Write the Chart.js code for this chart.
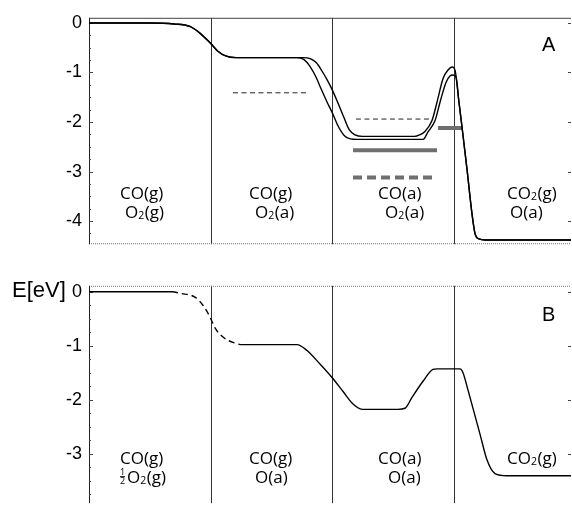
<!DOCTYPE html>
<html>
<head>
<meta charset="utf-8">
<script src="https://cdn.jsdelivr.net/npm/chart.js@4.4.0/dist/chart.umd.min.js"></script>
<style>
  html, body { margin: 0; padding: 0; background: #fff; }
  #wrap { position: relative; width: 572px; height: 521px; overflow: hidden; }
  #chartA { position: absolute; left: 0; top: 0; }
  #chartB { position: absolute; left: 0; top: 268px; }
</style>
</head>
<body>
<div id="wrap">
  <canvas id="chartA" width="572" height="262"></canvas>
  <canvas id="chartB" width="572" height="253"></canvas>
</div>
<script>
// reaction coordinate: four stages, dividers at 1, 2, 3
const stageBounds = [1, 2, 3];
const aTicks = [0, -1, -2, -3, -4];
const bTicks = [0, -1, -2, -3];

// panel A, upper path
const aUpperX = [0, 0.50, 0.70, 0.83, 0.91, 1.0, 1.06, 1.13, 1.21, 1.76, 1.82, 1.87, 1.92, 1.96, 2.0, 2.05, 2.10, 2.14, 2.19, 2.25,
  2.68, 2.72, 2.765, 2.823, 2.864, 2.914, 2.955, 2.988, 3.012, 3.045, 3.07, 3.111, 3.152, 3.177, 3.21, 3.26, 3.967];
const aUpperY = [0, 0, -0.02, -0.07, -0.2, -0.41, -0.57, -0.67, -0.70, -0.70, -0.72, -0.80, -0.98, -1.15, -1.34, -1.62, -1.92, -2.15, -2.26, -2.29,
  -2.29, -2.26, -2.19, -1.97, -1.6, -1.12, -0.95, -0.89, -0.95, -1.6, -2.1, -2.95, -3.85, -4.25, -4.36, -4.38, -4.38];

// panel A, lower path
const aLowerX = [0, 0.50, 0.70, 0.83, 0.91, 1.0, 1.06, 1.13, 1.21, 1.71, 1.77, 1.82, 1.87, 1.91, 1.96, 2.0, 2.05, 2.10, 2.15, 2.21,
  2.75, 2.79, 2.848, 2.889, 2.938, 2.971, 2.996, 3.021, 3.045, 3.07, 3.111, 3.152, 3.177, 3.21, 3.26, 3.967];
const aLowerY = [0, 0, -0.02, -0.07, -0.2, -0.41, -0.57, -0.67, -0.70, -0.70, -0.74, -0.88, -1.1, -1.33, -1.6, -1.80, -2.08, -2.27, -2.34, -2.35,
  -2.35, -2.2, -1.97, -1.6, -1.2, -1.07, -1.05, -1.1, -1.6, -2.1, -2.95, -3.85, -4.25, -4.36, -4.38, -4.38];

// panel A, horizontal state levels
const levelY = [-1.41, -1.94, -2.57, -3.12, -2.12];
const levelStart = [1.185, 2.197, 2.173, 2.173, 2.872];
const levelEnd = [1.80, 2.807, 2.864, 2.864, 3.07];

// panel B path (dashed between bDashFrom and bDashTo)
const bX = [0, 0.683, 0.75, 0.872, 0.938, 0.996, 1.037, 1.103, 1.185, 1.267, 1.712, 1.794, 1.901, 2.0, 2.091, 2.173, 2.255,
  2.543, 2.601, 2.658, 2.749, 2.831, 2.864, 3.053, 3.078, 3.119, 3.218, 3.276, 3.342, 3.44, 3.967];
const bY = [0, 0, -0.03, -0.1, -0.25, -0.47, -0.67, -0.84, -0.94, -0.98, -0.98, -1.09, -1.34, -1.59, -1.85, -2.08, -2.18,
  -2.18, -2.16, -1.96, -1.66, -1.44, -1.43, -1.43, -1.5, -1.82, -2.64, -3.12, -3.37, -3.41, -3.41];
const bDashFrom = 0.683;
const bDashTo = 1.267;

const aStates = [['CO(g)', 'O_2(g)'], ['CO(g)', 'O_2(a)'], ['CO(a)', 'O_2(a)'], ['CO_2(g)', 'O(a)']];
const bStates = [['CO(g)', '½O_2(g)'], ['CO(g)', 'O(a)'], ['CO(a)', 'O(a)'], ['CO_2(g)']];

const labelFont = '"Open Sans", sans-serif';
const tickFont = '"Liberation Sans", Arial, sans-serif';

function pts(xs, ys) {
    return xs.map((x, i) => ({ x: x, y: ys[i] }));
}

// text with _ for subscript and ½ as a stacked fraction
function drawRich(ctx, str, x, y, size) {
    let cx = x;
    ctx.textAlign = 'left';
    ctx.textBaseline = 'alphabetic';
    for (let i = 0; i < str.length; i++) {
        const ch = str[i];
        if (ch === '_') {
            const s = str[++i];
            ctx.font = (size * 0.62) + 'px ' + labelFont;
            ctx.fillText(s, cx, y + 1);
            cx += ctx.measureText(s).width + 0.5;
            continue;
        }
        if (ch === '½') {
            ctx.font = '9px ' + labelFont;
            ctx.fillText('1', cx + 1, y - 8);
            ctx.fillText('2', cx + 1, y + 1);
            ctx.fillRect(cx + 1, y - 7, 5, 1);
            cx += 8;
            continue;
        }
        ctx.font = size + 'px ' + labelFont;
        ctx.fillText(ch, cx, y);
        cx += ctx.measureText(ch).width;
    }
}

function framePlugin(opts) {
    return {
        id: 'frame',
        beforeDatasetsDraw(chart) {
            const ctx = chart.ctx;
            const { left, right, top, bottom } = chart.chartArea;
            const xs = chart.scales.x, ys = chart.scales.y;
            ctx.save();
            // dividers
            ctx.strokeStyle = '#333';
            ctx.lineWidth = 1;
            stageBounds.forEach(b => {
                const px = Math.round(xs.getPixelForValue(b)) + 0.5;
                ctx.beginPath();
                ctx.moveTo(px, top);
                ctx.lineTo(px, bottom);
                ctx.stroke();
            });
            // top border
            ctx.strokeStyle = opts.topColor;
            ctx.setLineDash(opts.topDash);
            ctx.beginPath();
            ctx.moveTo(left, top + 0.5);
            ctx.lineTo(right, top + 0.5);
            ctx.stroke();
            if (opts.bottom) {
                ctx.strokeStyle = '#777';
                ctx.setLineDash([1, 1]);
                ctx.beginPath();
                ctx.moveTo(left, bottom - 0.5);
                ctx.lineTo(right, bottom - 0.5);
                ctx.stroke();
            }
            ctx.setLineDash([]);
            // left axis
            ctx.strokeStyle = '#222';
            ctx.beginPath();
            ctx.moveTo(left + 0.5, top);
            ctx.lineTo(left + 0.5, bottom);
            ctx.stroke();
            // ticks, inward
            ctx.strokeStyle = '#444';
            for (let v = 0; v >= ys.min; v -= 0.25) {
                const py = Math.round(ys.getPixelForValue(v)) + 0.5;
                const major = Math.abs(v - Math.round(v)) < 1e-6;
                const len = major ? 4 : 2;
                ctx.beginPath();
                ctx.moveTo(left, py);
                ctx.lineTo(left + len, py);
                if (major) {
                    ctx.moveTo(right, py);
                    ctx.lineTo(right - 3, py);
                }
                ctx.stroke();
            }
            ctx.restore();
        },
        afterDraw(chart) {
            const ctx = chart.ctx;
            const { bottom } = chart.chartArea;
            const xs = chart.scales.x;
            ctx.save();
            ctx.fillStyle = '#000';
            opts.states.forEach((lines, i) => {
                lines.forEach((s, j) => {
                    const px = xs.getPixelForValue(opts.labelX[j][i]);
                    drawRich(ctx, s, px, bottom - opts.labelRise[j], 17);
                });
            });
            ctx.font = '20px ' + tickFont;
            ctx.textAlign = 'left';
            ctx.fillText(opts.panel, 542, opts.panelY);
            if (opts.unit) {
                ctx.font = '22px ' + tickFont;
                ctx.fillText('E[eV]', 12, opts.unitY);
            }
            ctx.restore();
        }
    };
}

function yAxis(min, max, ticks) {
    return {
        type: 'linear',
        min: min,
        max: max,
        afterFit(scale) { scale.width = 89; },
        afterBuildTicks(scale) { scale.ticks = ticks.map(v => ({ value: v })); },
        grid: { display: false, drawTicks: false },
        border: { display: false },
        ticks: {
            color: '#000',
            padding: 7,
            font: { family: tickFont, size: 18 },
            callback: v => String(v)
        }
    };
}

const xAxis = { type: 'linear', min: 0, max: 3.967, display: false };

const curveStyle = {
    borderColor: '#000',
    borderWidth: 1.4,
    pointRadius: 0,
    cubicInterpolationMode: 'monotone',
    fill: false
};

const levelStyles = [
    { borderColor: '#222', borderWidth: 1, borderDash: [5, 3.5] },
    { borderColor: '#222', borderWidth: 1, borderDash: [5, 3.5] },
    { borderColor: '#6f6f6f', borderWidth: 4, borderDash: [] },
    { borderColor: '#6f6f6f', borderWidth: 4, borderDash: [9, 5] },
    { borderColor: '#6f6f6f', borderWidth: 4, borderDash: [] }
];

const levelSets = levelY.map((y, i) => Object.assign({
    data: [{ x: levelStart[i], y: y }, { x: levelEnd[i], y: y }],
    pointRadius: 0,
    fill: false
}, levelStyles[i]));

new Chart(document.getElementById('chartA'), {
    type: 'line',
    data: {
        datasets: [
            Object.assign({ data: pts(aUpperX, aUpperY) }, curveStyle),
            Object.assign({ data: pts(aLowerX, aLowerY) }, curveStyle)
        ].concat(levelSets)
    },
    options: {
        responsive: false,
        animation: false,
        layout: { padding: { left: 0, right: 1, top: 15, bottom: 5 } },
        plugins: { legend: { display: false }, tooltip: { enabled: false } },
        scales: { x: xAxis, y: yAxis(-4.466, 0.104, aTicks) }
    },
    plugins: [framePlugin({
        states: aStates,
        labelX: [[0.255, 1.317, 2.379, 3.44], [0.296, 1.366, 2.436, 3.465]],
        labelRise: [45, 26],
        panel: 'A',
        panelY: 51,
        topColor: '#444',
        topDash: [],
        bottom: true
    })]
});

new Chart(document.getElementById('chartB'), {
    type: 'line',
    data: {
        datasets: [Object.assign({
            data: pts(bX, bY),
            segment: {
                borderDash: c => (c.p0.parsed.x >= bDashFrom - 1e-6 && c.p1.parsed.x <= bDashTo + 1e-6) ? [6, 4] : undefined
            }
        }, curveStyle)]
    },
    options: {
        responsive: false,
        animation: false,
        layout: { padding: { left: 0, right: 1, top: 14, bottom: 0 } },
        plugins: { legend: { display: false }, tooltip: { enabled: false } },
        scales: { x: xAxis, y: yAxis(-3.92, 0.11, bTicks) }
    },
    plugins: [framePlugin({
        states: bStates,
        labelX: [[0.255, 1.317, 2.379, 3.44], [0.247, 1.366, 2.461]],
        labelRise: [39, 20],
        panel: 'B',
        panelY: 53,
        topColor: '#777',
        topDash: [1, 1],
        bottom: false,
        unit: true,
        unitY: 29
    })]
});
</script>
</body>
</html>
